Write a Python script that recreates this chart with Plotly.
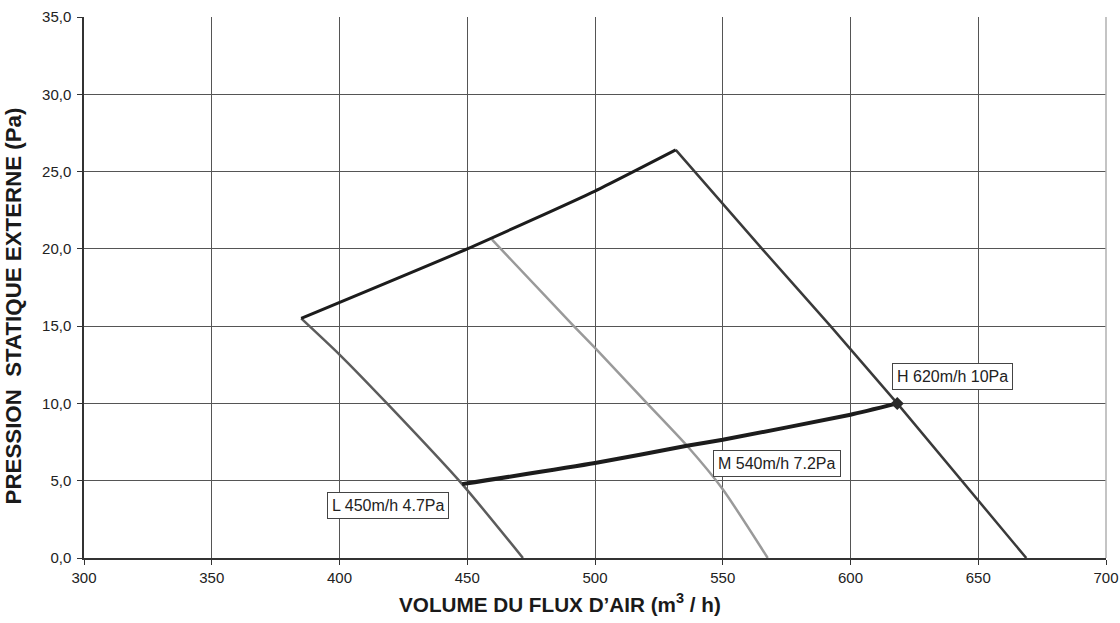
import plotly.graph_objects as go

# ---- data ----
top_x = [385.0, 450.0, 500.0, 531.6]
top_y = [15.5, 20.0, 23.74, 26.4]

h_x = [531.6, 565.4, 592.2, 618.3, 668.8]
h_y = [26.4, 20.0, 15.0, 10.0, 0.0]

m_x = [459.7, 491.7, 500.0, 520.4, 536.0, 550.0, 567.6]
m_y = [20.6, 15.0, 13.59, 10.0, 7.26, 4.45, 0.0]

l_x = [385.0, 400.0, 418.6, 448.0, 471.8]
l_y = [15.5, 13.16, 10.0, 4.78, 0.0]

op_x = [448.0, 500.0, 536.0, 550.0, 600.0, 618.3]
op_y = [4.78, 6.14, 7.26, 7.65, 9.27, 10.0]

point_x = [618.3]
point_y = [10.0]

labels = ["H 620m/h 10Pa", "M 540m/h 7.2Pa", "L 450m/h 4.7Pa"]
label_x = [616.1, 546.1, 395.1]
label_y = [12.62, 7.0, 4.26]

x_ticks = [300, 350, 400, 450, 500, 550, 600, 650, 700]
y_ticks = [0, 5, 10, 15, 20, 25, 30, 35]

x_title = "VOLUME DU FLUX D’AIR (m<sup>3</sup> / h)"
y_title = "PRESSION\u00a0 STATIQUE EXTERNE (Pa)"

FONT = "Liberation Sans, Arial, sans-serif"

fig = go.Figure()

fig.add_trace(go.Scatter(x=l_x, y=l_y, mode="lines",
                         line=dict(color="#5c5c5c", width=2.5, shape="spline", smoothing=0.6)))
fig.add_trace(go.Scatter(x=m_x, y=m_y, mode="lines",
                         line=dict(color="#9a9a9a", width=2.5, shape="spline", smoothing=0.6)))
fig.add_trace(go.Scatter(x=h_x, y=h_y, mode="lines",
                         line=dict(color="#3a3a3a", width=2.5, shape="spline", smoothing=0.4)))
fig.add_trace(go.Scatter(x=top_x, y=top_y, mode="lines",
                         line=dict(color="#1c1c1c", width=3, shape="spline", smoothing=0.5)))
fig.add_trace(go.Scatter(x=op_x, y=op_y, mode="lines",
                         line=dict(color="#1c1c1c", width=4, shape="spline", smoothing=0.5)))
fig.add_trace(go.Scatter(x=point_x, y=point_y, mode="markers",
                         marker=dict(symbol="diamond", size=10, color="#2a2a2a")))

for t, x, y in zip(labels, label_x, label_y):
    fig.add_annotation(x=x, y=y, xref="x", yref="y", text=t, showarrow=False,
                       xanchor="left", yanchor="top",
                       font=dict(family=FONT, size=16, color="#222"),
                       bgcolor="white", bordercolor="#444", borderwidth=1, borderpad=4)

# axis titles
fig.add_annotation(x=0.4658, y=0, xref="paper", yref="paper", yshift=-45,
                   xanchor="center", yanchor="middle", showarrow=False, text=x_title,
                   font=dict(family=FONT, size=20.7, color="#1a1a1a", weight="bold"))
fig.add_annotation(x=0, y=0.465, xref="paper", yref="paper", xshift=-71,
                   xanchor="center", yanchor="middle", showarrow=False, text=y_title,
                   textangle=-90,
                   font=dict(family=FONT, size=22.3, color="#1a1a1a", weight="bold"))

fig.add_shape(type="line", xref="paper", yref="paper", x0=1, x1=1, y0=0, y1=1,
              line=dict(color="#b0b0b0", width=1.5))

fig.update_layout(
    width=1120, height=623,
    margin=dict(l=84, r=14, t=17, b=65),
    paper_bgcolor="white", plot_bgcolor="white",
    showlegend=False,
    separators=", ",
    font=dict(family=FONT, size=15, color="#222"),
)

fig.update_xaxes(
    range=[300, 700], tickvals=x_ticks, ticktext=[str(v) for v in x_ticks],
    showgrid=True, gridcolor="#555", gridwidth=1,
    showline=True, linecolor="#333", linewidth=2,
    ticks="outside", ticklen=5, tickcolor="#333",
    zeroline=False, automargin=False,
    tickfont=dict(family=FONT, size=15, color="#222"),
)
fig.update_yaxes(
    range=[0, 35], tickvals=y_ticks, tickformat=".1f",
    showgrid=True, gridcolor="#555", gridwidth=1,
    showline=True, linecolor="#333", linewidth=1.5,
    ticks="outside", ticklen=5, tickcolor="#333",
    zeroline=False, automargin=False,
    tickfont=dict(family=FONT, size=15, color="#222"),
    ticklabelstandoff=3,
)

fig.write_html("out.html",
               config={"displayModeBar": False},
               post_script="document.body.style.margin='0';document.body.style.padding='0';")
